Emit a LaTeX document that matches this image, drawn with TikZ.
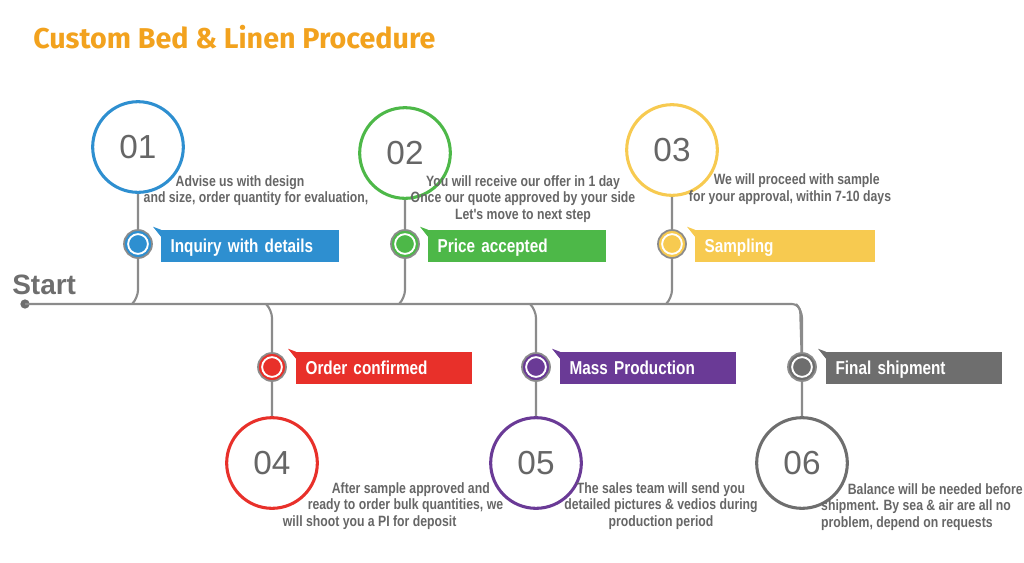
\documentclass[tikz,border=0pt]{standalone}
\usepackage{fontspec}
\setmainfont{Liberation Sans}
\newfontfamily\narrow[FakeStretch=0.82]{Liberation Sans}
\newfontfamily\titlefont{Fira Sans}
\definecolor{cblue}{HTML}{2E8FD0}
\definecolor{cgreen}{HTML}{4DB848}
\definecolor{cyellow}{HTML}{F7CA50}
\definecolor{cred}{HTML}{E8302A}
\definecolor{cpurple}{HTML}{6A3A96}
\definecolor{cgray}{HTML}{6E6E6E}
\definecolor{ctext}{HTML}{666666}
\definecolor{corange}{HTML}{F2A21E}
\begin{document}
\begin{tikzpicture}[x=0.75pt,y=-0.75pt,
 line/.style={draw=cgray!80,line width=1.6pt},
 big/.style={circle,draw=#1,line width=2.3pt,fill=white,minimum size=68pt,inner sep=0pt,font=\fontsize{25}{25}\selectfont,text=ctext},
 small/.style={circle,draw=cgray!80,line width=1.3pt,fill=#1,minimum size=21pt,inner sep=0pt,path picture={\draw[white,line width=1.4pt] (path picture bounding box.center) circle (7.4pt);}},
 desc/.style={font=\narrow\bfseries\fontsize{11.2}{12.6}\selectfont,text=ctext,align=center,inner sep=0pt},
 banner/.style={fill=#1,text=white,font=\narrow\bfseries\fontsize{14}{14}\selectfont,anchor=west,minimum height=24pt,inner sep=0pt,inner xsep=7pt,text depth=0pt}]
\useasboundingbox (0,0) rectangle (1024,562);
\node[font=\titlefont\bfseries\fontsize{21.5}{22}\selectfont,text=corange,anchor=west,inner sep=0pt] (title) at (33,37) {Custom Bed \& Linen Procedure};
\node[font=\bfseries\fontsize{21}{21}\selectfont,text=cgray,anchor=west,inner sep=0pt] (start) at (12,285) {Start};
\coordinate (s0) at (25,304);
\coordinate (e0) at (800,304);
\fill[cgray] (s0) circle (3.5pt);
\draw[line,rounded corners=6pt] (s0) -- (e0) -- (802,367);
% top branches
\foreach \n/\x/\y/\c/\w/\t in {1/138/147/cblue/133/Inquiry with details,2/405/153/cgreen/133/Price accepted,3/672/150/cyellow/135/Sampling}{
 \coordinate (j\n) at (\x,304);
 \node[big=\c] (b\n) at (\x,\y) {0\n};
 \draw[line,rounded corners=6pt] (\x-6,304) -- (\x,298) -- (b\n);
 \node[small=\c] (m\n) at (\x,244) {};
 \node[banner=\c,text width=\w pt-14pt] (l\n) at (\x+23,246) {\t};
 \fill[\c] (l\n.north west) -- ++(-8,-3) -- ++(8,10) -- cycle;
}
% bottom branches
\foreach \n/\x/\c/\t in {4/272/cred/Order confirmed,5/536/cpurple/Mass Production,6/802/cgray/Final shipment}{
 \coordinate (j\n) at (\x,304);
 \node[big=\c] (b\n) at (\x,463) {0\n};
 \draw[line,rounded corners=6pt] (\x-6,304) -- (\x,310) -- (b\n);
 \node[small=\c] (m\n) at (\x,367) {};
 \node[banner=\c,text width=118pt] (l\n) at (\x+24,368) {\t};
 \fill[\c] (l\n.north west) -- ++(-8,-3) -- ++(8,10) -- cycle;
}
% descriptions
\node[desc] (d1a) at (240,183) {Advise us with design};
\node[desc] (d1b) at (256,199) {and size, order quantity for evaluation,};
\node[desc] (d2) at (523,199) {You will receive our offer in 1 day\\Once our quote approved by your side\\Let's move to next step};
\node[desc] (d3) at (790,189) {\hspace*{10pt}We will proceed with sample\\for your approval, within 7-10 days};
\node[desc,align=right] (d4) at (393,506) {After sample approved and\hspace*{10pt}\\ready to order bulk quantities, we\\will shoot you a PI for deposit\hspace*{35pt}};
\node[desc] (d5) at (661,506) {The sales team will send you\\detailed pictures \& vedios during\\production period};
\node[desc,align=left] (d6) at (922,507) {\hspace*{20pt}Balance will be needed before\\shipment. By sea \& air are all no\\problem, depend on requests};
\end{tikzpicture}
\end{document}
